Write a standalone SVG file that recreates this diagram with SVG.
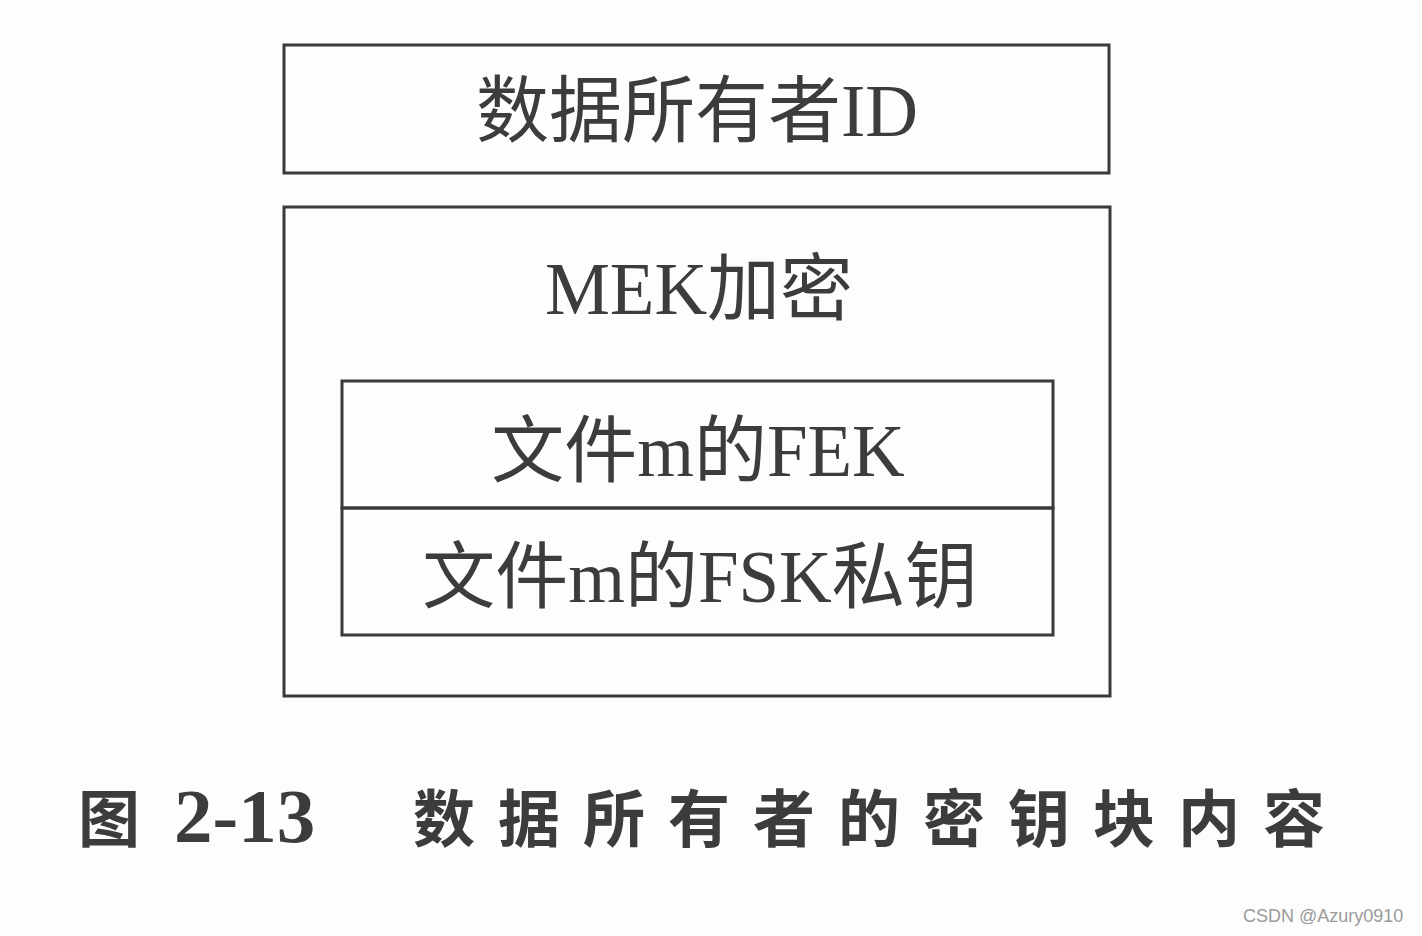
<svg xmlns="http://www.w3.org/2000/svg" width="1422" height="936" viewBox="0 0 1422 936">
<style>
.box{fill:none;stroke:#3a3a3a;stroke-width:3}
.t{font-family:"Liberation Serif","Noto Sans CJK SC",serif;font-size:73px;fill:#3c3c3c;text-anchor:middle}
.cap{font-family:"Liberation Serif","Noto Sans CJK SC",serif;font-size:62px;font-weight:bold;fill:#3c3c3c}
.num{font-size:77px}
.wm{font-family:"Liberation Sans",sans-serif;font-size:18px;fill:#9a9a9a}
</style>
<rect width="1422" height="936" fill="#fdfdfd"/>
<g id="owner-id">
<rect class="box" x="284" y="45" width="825" height="128"/>
<text class="t" x="697" y="136">数据所有者ID</text>
</g>
<g id="mek-block">
<rect class="box" x="284" y="207" width="826" height="489"/>
<text class="t" x="699" y="314">MEK加密</text>
</g>
<g id="fek">
<rect class="box" x="342" y="381" width="711" height="127"/>
<text class="t" x="698" y="476">文件m的FEK</text>
</g>
<g id="fsk">
<rect class="box" x="342" y="508" width="711" height="127"/>
<text class="t" x="700" y="602">文件m的FSK私钥</text>
</g>
<g id="connectors"></g>
<g id="caption">
<text class="cap" x="78" y="842">图</text>
<text class="cap num" x="174" y="842">2-13</text>
<text class="cap" x="413" y="842" letter-spacing="23">数据所有者的密钥块内容</text>
</g>
<text class="wm" x="1243" y="922">CSDN @Azury0910</text>
</svg>
